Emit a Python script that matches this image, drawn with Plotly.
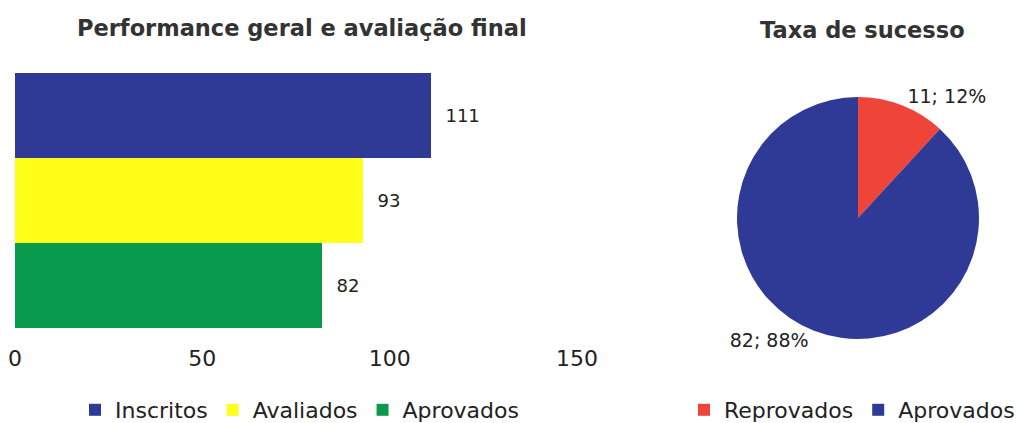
import plotly.graph_objects as go

# dados do gráfico de barras
categorias = ["Inscritos", "Avaliados", "Aprovados"]
valores = [111, 93, 82]
cores_barras = ["#2E3A96", "#FFFF1A", "#0A9A4E"]

# dados do gráfico de pizza
rotulos_pizza = ["Reprovados", "Aprovados"]
valores_pizza = [11, 82]
cores_pizza = ["#EF4538", "#2E3A96"]

fonte = "DejaVu Sans, sans-serif"

# o body da página tem margem de 8px: a figura fica em (8, 8) e vai até ao fim da janela
W, H, OFF = 1014, 415, 8


def px(x):
    return (x - OFF) / W


def py(y):
    return (H - (y - OFF)) / H


fig = go.Figure()

# barras horizontais: a primeira trace fica em baixo, por isso ordem inversa
for i in reversed(range(len(categorias))):
    fig.add_trace(go.Bar(
        y=[""],
        x=[valores[i]],
        name=categorias[i],
        orientation="h",
        marker=dict(color=cores_barras[i], line=dict(width=0)),
        text=[valores[i]],
        textposition="outside",
        texttemplate="  %{x}",
        textfont=dict(size=18, color="#222222"),
        cliponaxis=False,
        legendrank=i + 1,
        legend="legend",
    ))

fig.add_trace(go.Pie(
    labels=rotulos_pizza,
    values=valores_pizza,
    marker=dict(colors=cores_pizza, line=dict(width=0)),
    sort=False,
    direction="clockwise",
    rotation=0,
    textposition="outside",
    texttemplate="%{value}; %{percent:.0%}",
    textfont=dict(size=19, color="#222222"),
    domain=dict(x=[px(858) - 150 / W, px(858) + 150 / W],
                y=[py(218) - 121 / H, py(218) + 121 / H]),
    legend="legend2",
))

fig.update_layout(
    width=W,
    height=H,
    margin=dict(l=0, r=0, t=0, b=0, autoexpand=False),
    paper_bgcolor="white",
    plot_bgcolor="white",
    font=dict(family=fonte, size=22, color="#222222"),
    barmode="group",
    bargap=0,
    bargroupgap=0,
    xaxis=dict(
        domain=[px(15), px(577)],
        range=[0, 150],
        tickvals=[0, 50, 100, 150],
        showgrid=False,
        zeroline=False,
        showline=False,
        automargin=False,
        ticklabelstandoff=15,
        ticklabeloverflow="allow",
        tickfont=dict(size=22, color="#222222"),
    ),
    yaxis=dict(
        domain=[py(328), py(73)],
        range=[-0.5, 0.5],
        showticklabels=False,
        showgrid=False,
        zeroline=False,
        automargin=False,
    ),
    legend=dict(
        orientation="h",
        xref="container", yref="container",
        x=px(115 - 40), xanchor="left",
        y=py(410), yanchor="middle",
        font=dict(size=22, color="#222222"),
        itemwidth=30,
    ),
    legend2=dict(
        orientation="h",
        xref="container", yref="container",
        x=px(724 - 40), xanchor="left",
        y=py(410), yanchor="middle",
        font=dict(size=22, color="#222222"),
        itemwidth=30,
    ),
    annotations=[
        dict(text="<b>Performance geral e avaliação final</b>", x=px(302), y=py(28),
             xref="paper", yref="paper", showarrow=False, xanchor="center", yanchor="middle",
             font=dict(size=22.5, color="#333333")),
        dict(text="<b>Taxa de sucesso</b>", x=px(862), y=py(30),
             xref="paper", yref="paper", showarrow=False, xanchor="center", yanchor="middle",
             font=dict(size=22.5, color="#333333")),
    ],
)

fig.write_html("out.html")
